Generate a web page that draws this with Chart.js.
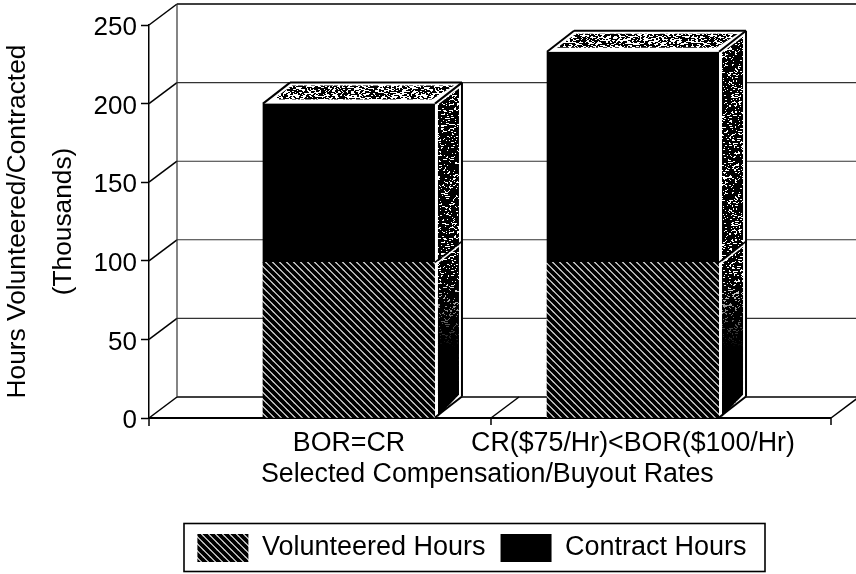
<!DOCTYPE html>
<html>
<head>
<meta charset="utf-8">
<style>
  html, body { margin: 0; padding: 0; background: #fff; }
  #wrap { width: 856px; height: 574px; overflow: hidden; }
  canvas { display: block; filter: blur(0.45px); }
</style>
<script src="https://cdn.jsdelivr.net/npm/chart.js@4"></script>
</head>
<body>
<div id="wrap"><canvas id="hoursChart" width="856" height="574"></canvas></div>
<script>
const categories = ["BOR=CR", "CR($75/Hr)<BOR($100/Hr)"];
const volunteeredHours = [99, 99];
const contractHours = [101, 134];
const yTicks = [0, 50, 100, 150, 200, 250];
const floorTicks = [0.5, 1.697];
const xAxisTitle = "Selected Compensation/Buyout Rates";

const FONT = "'Liberation Sans', Arial, sans-serif";
const WALL_DX = 28;
const WALL_DY = 21;
const BAR_DX = 27;

// Diagonal hatch for the volunteered bars
function makeHatch(size, width) {
  const c = document.createElement("canvas");
  c.width = size;
  c.height = size;
  const g = c.getContext("2d");
  g.fillStyle = "#fff";
  g.fillRect(0, 0, size, size);
  g.strokeStyle = "#000";
  g.lineWidth = width;
  for (let i = -size; i <= size; i += size) {
    g.beginPath();
    g.moveTo(i - 2, -2);
    g.lineTo(i + size + 2, size + 2);
    g.stroke();
  }
  return document.createElement("canvas").getContext("2d").createPattern(c, "repeat");
}

// Speckle used on the top and side faces (fixed sequence, texture only)
function makeSpeckle(density) {
  const c = document.createElement("canvas");
  c.width = 128;
  c.height = 128;
  const g = c.getContext("2d");
  g.fillStyle = "#fff";
  g.fillRect(0, 0, 128, 128);
  let seed = 4711;
  g.fillStyle = "#000";
  for (let y = 0; y < 128; y++) {
    for (let x = 0; x < 128; x++) {
      seed = (seed * 16807) % 2147483647;
      if (seed % 1000 < density * 1000) g.fillRect(x, y, 2, 1);
    }
  }
  return document.createElement("canvas").getContext("2d").createPattern(c, "repeat");
}

const hatch = makeHatch(7, 4);
const topSpeckle = makeSpeckle(0.36);
const sideSpeckle = makeSpeckle(0.58);

function poly(ctx, pts) {
  ctx.beginPath();
  pts.forEach((p, i) => (i ? ctx.lineTo(p[0], p[1]) : ctx.moveTo(p[0], p[1])));
  ctx.closePath();
}

function line(ctx, x1, y1, x2, y2, color, width) {
  ctx.strokeStyle = color;
  ctx.lineWidth = width;
  ctx.beginPath();
  ctx.moveTo(x1, y1);
  ctx.lineTo(x2, y2);
  ctx.stroke();
}

// Back wall, floor and side wall behind the bars
const wallPlugin = {
  id: "wall",
  beforeDatasetsDraw(chart) {
    const ctx = chart.ctx;
    const xs = chart.scales.x;
    const ys = chart.scales.y;
    const left = xs.left;
    const zero = ys.getPixelForValue(0);
    ctx.save();
    yTicks.forEach((t) => {
      const y = ys.getPixelForValue(t);
      const top = t === yTicks[yTicks.length - 1];
      line(ctx, left + WALL_DX, y - WALL_DY, 856, y - WALL_DY, t === 0 || top ? "#000" : "#333", t === 0 || top ? 1.6 : 1.1);
      line(ctx, left, y, left + WALL_DX, y - WALL_DY, "#000", 1.5);
    });
    line(ctx, left + WALL_DX, ys.getPixelForValue(250) - WALL_DY, left + WALL_DX, zero - WALL_DY, "#333", 1.2);
    line(ctx, left, zero, xs.getPixelForValue(floorTicks[1]), zero, "#000", 1.8);
    line(ctx, left, zero, left, zero + 8, "#000", 1.5);
    floorTicks.forEach((t) => {
      const x = xs.getPixelForValue(t);
      line(ctx, x, zero, x + WALL_DX, zero - WALL_DY, "#000", 1.5);
      line(ctx, x, zero, x, zero + 7, "#000", 1.5);
    });
    ctx.restore();
  },
  // Top and side faces of each stacked bar
  afterDatasetsDraw(chart) {
    const ctx = chart.ctx;
    const lower = chart.getDatasetMeta(0).data;
    const upper = chart.getDatasetMeta(1).data;
    ctx.save();
    upper.forEach((bar, i) => {
      const r = bar.x + bar.width / 2;
      const l = bar.x - bar.width / 2;
      const top = bar.y;
      const mid = lower[i].y;
      const base = lower[i].base;
      // top face
      poly(ctx, [[l, top], [l + BAR_DX, top - WALL_DY], [r + BAR_DX, top - WALL_DY], [r, top]]);
      ctx.fillStyle = "#fff";
      ctx.fill();
      poly(ctx, [[l + 10, top - 4], [l + BAR_DX + 2, top - WALL_DY + 3], [r + BAR_DX - 8, top - WALL_DY + 3], [r - 3, top - 4]]);
      ctx.fillStyle = topSpeckle;
      ctx.fill();
      // side face
      poly(ctx, [[r, top], [r + BAR_DX, top - WALL_DY], [r + BAR_DX, base - WALL_DY], [r, base]]);
      ctx.fillStyle = "#fff";
      ctx.fill();
      poly(ctx, [[r + 3, top + 1], [r + BAR_DX - 3, top - WALL_DY + 6], [r + BAR_DX - 3, base - WALL_DY - 2], [r + 3, base - 1]]);
      ctx.fillStyle = sideSpeckle;
      ctx.fill();
      // lower part of the side prints almost solid
      const shade = ctx.createLinearGradient(0, base - 140, 0, base - 70);
      shade.addColorStop(0, "rgba(0,0,0,0)");
      shade.addColorStop(1, "rgba(0,0,0,1)");
      ctx.fillStyle = shade;
      ctx.fill();
      // edges
      line(ctx, l, top, l + BAR_DX, top - WALL_DY, "#000", 2);
      line(ctx, l + BAR_DX, top - WALL_DY, r + BAR_DX, top - WALL_DY, "#000", 2);
      line(ctx, r, top, r + BAR_DX, top - WALL_DY, "#000", 2);
      line(ctx, r + BAR_DX, top - WALL_DY, r + BAR_DX, base - WALL_DY, "#000", 2);
      line(ctx, r + BAR_DX, base - WALL_DY, r, base, "#000", 2);
      line(ctx, r, mid, r + BAR_DX, mid - WALL_DY, "#000", 1.6);
      line(ctx, r, mid + 2.5, r + BAR_DX - 3, mid - WALL_DY + 4.5, "#fff", 1.4);
    });
    ctx.restore();
  },
};

// Axis title is centred between the two bars, not on the plot area
const xTitlePlugin = {
  id: "xTitle",
  afterDraw(chart) {
    const ctx = chart.ctx;
    ctx.save();
    ctx.fillStyle = "#000";
    ctx.font = "26.8px " + FONT;
    ctx.textAlign = "center";
    ctx.textBaseline = "middle";
    ctx.fillText(xAxisTitle, chart.scales.x.getPixelForValue(0.487), 475);
    ctx.restore();
  },
};

// Legend sits in its own frame, off the canvas centre
const legendFramePlugin = {
  id: "legendFrame",
  afterLayout(chart) {
    chart.legend.left = 88;
    chart.legend.top = 519;
  },
  afterDraw(chart) {
    const ctx = chart.ctx;
    ctx.save();
    ctx.strokeStyle = "#000";
    ctx.lineWidth = 1.6;
    ctx.strokeRect(184, 523.5, 581, 48);
    ctx.restore();
  },
};

document.addEventListener("DOMContentLoaded", function () {
  const ctx = document.getElementById("hoursChart");
  new Chart(ctx.getContext("2d"), {
    type: "bar",
    data: {
      datasets: [
        {
          label: "Volunteered Hours",
          data: volunteeredHours.map((v, i) => ({ x: i, y: v })),
          backgroundColor: hatch,
          barThickness: 172,
        },
        {
          label: "Contract Hours",
          data: contractHours.map((v, i) => ({ x: i, y: v })),
          backgroundColor: "#000",
          barThickness: 172,
        },
      ],
    },
    plugins: [wallPlugin, xTitlePlugin, legendFramePlugin],
    options: {
      responsive: false,
      animation: false,
      events: [],
      layout: { padding: { top: 25, left: 0, right: 0, bottom: 0 } },
      plugins: {
        tooltip: { enabled: false },
        title: { display: false },
        legend: {
          position: "bottom",
          labels: {
            boxWidth: 51,
            boxHeight: 28,
            padding: 15,
            color: "#000",
            font: { family: FONT, size: 27 },
          },
        },
      },
      scales: {
        x: {
          type: "linear",
          stacked: true,
          offset: false,
          min: -0.704,
          max: 1.785,
          grid: { display: false },
          border: { display: false },
          afterBuildTicks(scale) {
            scale.ticks = categories.map((c, i) => ({ value: i }));
          },
          afterFit(scale) {
            scale.height = 103;
          },
          ticks: {
            autoSkip: false,
            maxRotation: 0,
            padding: 2,
            color: "#000",
            font: { family: FONT, size: 26.8 },
            callback: (v) => categories[v],
          },
        },
        y: {
          stacked: true,
          min: 0,
          max: 250,
          afterFit(scale) {
            scale.width = 149;
          },
          afterBuildTicks(scale) {
            scale.ticks = yTicks.map((t) => ({ value: t }));
          },
          grid: { drawOnChartArea: false, tickLength: 8, tickWidth: 1.5, tickColor: "#000" },
          border: { color: "#000", width: 1.5 },
          ticks: {
            padding: 4,
            color: "#000",
            // empty first line drops the number 3px to sit on its tick
            font: { family: FONT, size: 26, lineHeight: "6px" },
            callback: (v) => ["", String(v)],
          },
          title: {
            display: true,
            text: ["Hours Volunteered/Contracted", "(Thousands)"],
            color: "#000",
            font: { family: FONT, size: 26.3, lineHeight: 1.75 },
            padding: { top: -5, bottom: 0 },
          },
        },
      },
    },
  });
});
</script>
</body>
</html>
